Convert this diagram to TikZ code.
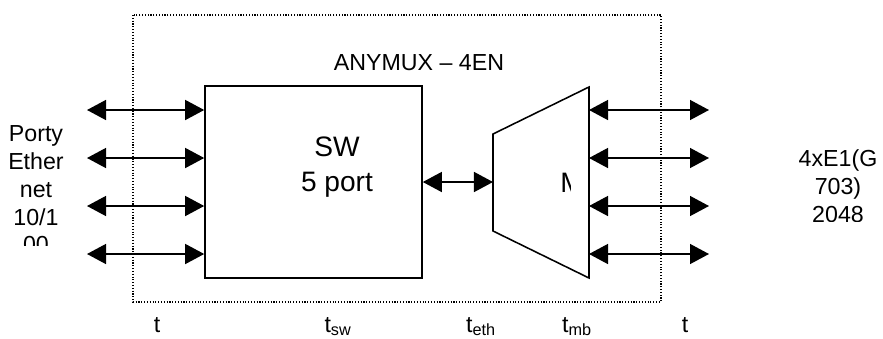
\documentclass[tikz,border=0pt]{standalone}
\usepackage{fontspec}
\setmainfont{Liberation Sans}
\usetikzlibrary{arrows.meta}
\definecolor{mxline}{HTML}{000000}

\begin{document}
\begin{tikzpicture}[x=0.025cm, y=-0.025cm, font=\fontsize{16.5}{19.8}\selectfont,
    link/.style={{Triangle[length=0.475cm, width=0.5cm]}-{Triangle[length=0.475cm, width=0.5cm]},
                 draw=mxline, line width=1pt},
    blockbox/.style={draw=mxline, line width=1.1pt, minimum width=5.425cm,
                     minimum height=4.8cm, inner sep=0pt},
    lbl/.style={inner sep=0pt, align=center, text=mxline},
    biglbl/.style={lbl, font=\fontsize{20}{24.8}\selectfont}]
  \useasboundingbox (0,0) rectangle (883,338);

  % ramka urzadzenia
  \draw[mxline, line width=0.8pt, dash pattern=on 0.8pt off 1.2pt] (133,15) rectangle (661,302);
  \node[lbl, anchor=base] (title) at (419,70) {ANYMUX – 4EN};

  % przelacznik
  \node[blockbox] (sw) at (313.5,182) {};
  \node[biglbl, anchor=north] (swtxt) at (337,137) {SW\\5 port};

  % multiplekser
  \coordinate (mtl) at (493,134);
  \coordinate (mtr) at (589,87);
  \coordinate (mbr) at (589,278);
  \coordinate (mbl) at (493,231);
  \draw[mxline, line width=1.1pt] (mtl) -- (mtr) -- (mbr) -- (mbl) -- cycle;
  \begin{scope}
    \clip (540,150) rectangle (570,210);
    \node[biglbl, anchor=base west] (mux) at (560,192) {M};
  \end{scope}

  \draw[link] (sw.east) -- (sw.east -| mtl);

  % porty
  \foreach \yy [count=\i] in {110,158,206,254} {
    \coordinate (pin\i) at (87,\yy);
    \coordinate (pout\i) at (709,\yy);
    \draw[link] (pin\i) -- (sw.west |- pin\i);
    \draw[link] (mbr |- pout\i) -- (pout\i);
  }

  \begin{scope}
    \clip (0,100) rectangle (120,245);
    \node[lbl, anchor=north] (ethtxt) at (36,125.3) {Porty\\Ether\\net\\10/1\\00};
  \end{scope}
  \begin{scope}
    \clip (760,100) rectangle (883,221);
    \node[lbl, anchor=north] (e1txt) at (838,149.3) {4xE1(G\\703)\\2048};
  \end{scope}

  % opoznienia
  \node[lbl, anchor=base] (tl) at (157,332) {t};
  \node[lbl, anchor=base] (tsw) at (338,332) {t\textsubscript{sw}};
  \node[lbl, anchor=base] (teth) at (481,332) {t\textsubscript{eth}};
  \node[lbl, anchor=base] (tmb) at (577,332) {t\textsubscript{mb}};
  \node[lbl, anchor=base] (tr) at (685,332) {t};
\end{tikzpicture}
\end{document}
